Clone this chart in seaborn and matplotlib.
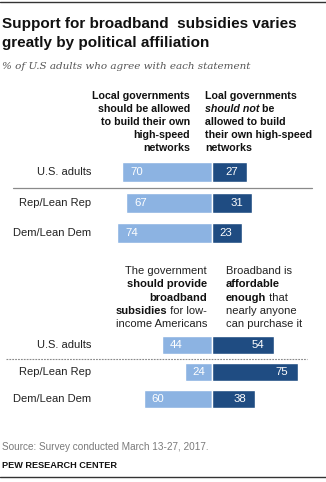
import matplotlib
matplotlib.use('Agg')
import matplotlib.pyplot as plt
import seaborn as sns
import pandas as pd

# ---- data ----
groups = ["U.S. adults", "Rep/Lean Rep", "Dem/Lean Dem"]
allowed = [70, 67, 74]          # Local governments should be allowed
not_allowed = [27, 31, 23]      # should not be allowed
subsidies = [44, 24, 60]        # government should provide subsidies
affordable = [54, 75, 38]       # broadband is affordable enough

LIGHT = '#8cb3e2'
DARK = '#1f4c82'
W, H = 326, 482

sns.set_theme(style='white')
plt.rcParams['font.family'] = ['Liberation Sans', 'DejaVu Sans']

fig = plt.figure(figsize=(W / 100, H / 100), dpi=100)
fig.patch.set_facecolor('white')


def ax_at(top_px, bottom_px):
    return fig.add_axes([0, 1 - bottom_px / H, 1, (bottom_px - top_px) / H])


def ft(x, y, s, **kw):
    return fig.text(x / W, 1 - y / H, s, **kw)


def panel(ax, left_vals, right_vals, scale, center_px, bar_frac):
    df = pd.DataFrame({'group': groups,
                       'left': [-v for v in left_vals],
                       'right': right_vals})
    sns.barplot(data=df, x='left', y='group', color=LIGHT, width=bar_frac,
                ax=ax, saturation=1, errorbar=None)
    sns.barplot(data=df, x='right', y='group', color=DARK, width=bar_frac,
                ax=ax, saturation=1, errorbar=None)
    ax.set_xlim(-center_px / scale, (W - center_px) / scale)
    ax.set_ylim(2.5, -0.5)
    ax.axis('off')
    for i, (l, r) in enumerate(zip(left_vals, right_vals)):
        ax.annotate(str(l), xy=(-l, i), xytext=(5.8, 0), textcoords='offset points',
                    ha='left', va='center', color='white', fontsize=8.2)
        ax.annotate(str(r), xy=(r, i), xytext=(-6.5, 0), textcoords='offset points',
                    ha='right', va='center', color='white', fontsize=8.2)
        ax.text(91 / W, i, groups[i], transform=ax.get_yaxis_transform(),
                ha='right', va='center', fontsize=8, color='#222')


ax_top = ax_at(157.2, 248.2)
panel(ax_top, allowed, not_allowed, 1.285, 212, 0.66)
ax_top.plot([13 / W, 312 / W], [0.5, 0.5], transform=ax_top.get_yaxis_transform(),
            color='#8a8a8a', lw=0.9, clip_on=False)

ax_bot = ax_at(331.5, 412.5)
panel(ax_bot, subsidies, affordable, 1.14, 212, 0.685)
ax_bot.plot([6 / W, 307 / W], [0.5, 0.5], transform=ax_bot.get_yaxis_transform(),
            color='#8a8a8a', lw=0.8, ls=(0, (1.6, 1.0)), clip_on=False)

# ---- rules ----
fig.add_artist(plt.Line2D([0, 1], [1 - 1.7 / H, 1 - 1.7 / H], color='#333', lw=1.0))
fig.add_artist(plt.Line2D([0, 1], [1 - 476.7 / H, 1 - 476.7 / H], color='#333', lw=1.0))

# ---- title & subtitle ----
ft(2, 28.3, "Support for broadband  subsidies varies", fontsize=11, fontweight='bold',
   color='#111', va='baseline')
ft(2, 47.3, "greatly by political affiliation", fontsize=11, fontweight='bold',
   color='#111', va='baseline')
ft(2, 69.3, "% of U.S adults who agree with each statement", fontsize=7.5,
   style='italic', family=['DejaVu Serif'], color='#555', va='baseline')

# ---- top headers ----
hk = dict(fontsize=7.7, fontweight='bold', color='#111', va='baseline')
left_top = ["Local governments", "should be allowed", "to build their own",
            "high-speed", "networks"]
for k, s in enumerate(left_top):
    ft(190, 99 + 13 * k, s, ha='right', **hk)

ft(205, 99, "Loal governments", ha='left', **hk)
t_sn = ft(205, 112, "should not", ha='left', style='italic', **hk)
ax_top.annotate(" be", xy=(1, 0), xycoords=t_sn, ha='left', va='bottom',
                fontsize=7.7, fontweight='bold', color='#111', annotation_clip=False)
ft(205, 125, "allowed to build", ha='left', **hk)
ft(205, 138, "their own high-speed", ha='left', **hk)
ft(205, 151, "networks", ha='left', **hk)

# ---- bottom headers ----
nk = dict(fontsize=8, color='#222', va='baseline')
bk = dict(fontsize=8, color='#111', fontweight='bold', va='baseline')
b0 = 274
sp = 13.3
ft(207, b0, "The government", ha='right', **nk)
ft(207, b0 + sp, "should provide", ha='right', **bk)
ft(207, b0 + 2 * sp, "broadband", ha='right', **bk)
t_fl = ft(207, b0 + 3 * sp, " for low-", ha='right', **nk)
ax_top.annotate("subsidies", xy=(0, 0), xycoords=t_fl, ha='right', va='bottom',
                fontsize=8, fontweight='bold', color='#111', annotation_clip=False)
ft(207, b0 + 4 * sp, "income Americans", ha='right', **nk)

ft(226, b0, "Broadband is", ha='left', **nk)
ft(226, b0 + sp, "affordable", ha='left', **bk)
t_en = ft(226, b0 + 2 * sp, "enough", ha='left', **bk)
ax_top.annotate(" that", xy=(1, 0), xycoords=t_en, ha='left', va='bottom',
                fontsize=8, color='#222', annotation_clip=False)
ft(226, b0 + 3 * sp, "nearly anyone", ha='left', **nk)
ft(226, b0 + 4 * sp, "can purchase it", ha='left', **nk)

# ---- source ----
ft(2, 450, "Source: Survey conducted March 13-27, 2017.", fontsize=7.2,
   color='#7a7a7a', va='baseline')
ft(2, 468.3, "PEW RESEARCH CENTER", fontsize=6.6, fontweight='bold',
   color='#111', va='baseline')

fig.savefig('out.png', dpi=100, facecolor='white')
